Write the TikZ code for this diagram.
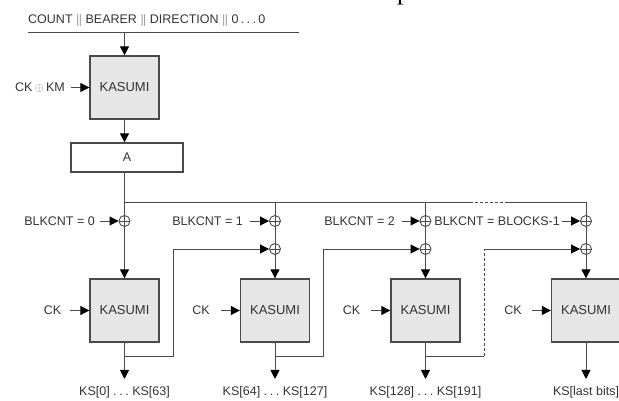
\documentclass[tikz,border=0pt]{standalone}
\usepackage{fontspec}
\setmainfont{Liberation Sans}
\newfontfamily\seriffont{Liberation Serif}
\usetikzlibrary{arrows.meta,calc}
\definecolor{ln}{HTML}{4A4A4A}
\definecolor{tx}{HTML}{333333}
\definecolor{boxfill}{HTML}{E6E6E6}
\newcommand{\sdots}{.\hspace{2.6pt}.\hspace{2.6pt}.}
\tikzset{
  kbox/.style={draw=ln, line width=1.3pt, fill=boxfill, minimum width=69pt, minimum height=63pt, inner sep=0pt, text=tx, font=\fontsize{13}{15}\selectfont},
  lbl/.style={text=tx, font=\fontsize{12.5}{15}\selectfont, inner sep=0pt},
  wire/.style={draw=ln, line width=0.9pt},
  arr/.style={wire, -{Triangle[length=9pt,width=9pt,color=black]}},
  dwire/.style={wire, dash pattern=on 3pt off 2pt},
  xorn/.style={circle, draw=ln, line width=0.9pt, minimum size=11pt, inner sep=0pt,
    path picture={\draw[ln,line width=0.9pt] (path picture bounding box.north) -- (path picture bounding box.south) (path picture bounding box.west) -- (path picture bounding box.east);}},
}
\begin{document}
\begin{tikzpicture}[x=1pt,y=-1pt]
\useasboundingbox (0,0) rectangle (619,401);
\clip (0,0) rectangle (619,401);

% cropped fragment of surrounding text
\node[font=\seriffont\fontsize{26}{26}\selectfont, inner sep=0pt, anchor=base west, text=black] (pfrag) at (397,0) {p};

% header
\node[lbl, anchor=west] (title) at (28,21) {COUNT $\|$ BEARER $\|$ DIRECTION $\|$ 0\,\sdots\,0};
\coordinate (tl) at (28,32);
\coordinate (tr) at (299,32);
\draw[wire] (tl) -- (tr);
\coordinate (tin) at (124.5,32);

% first KASUMI and A
\node[kbox] (k0) at (124.5,87.5) {KASUMI};
\draw[arr] (tin) -- (k0.north);
\node[lbl, anchor=east] (ckkm) at (65,87.5) {CK\,{\color{gray}$\oplus$}\,KM};
\draw[arr] ($(ckkm.east)+(6,0)$) -- (k0.west);
\node[draw=ln, line width=1.3pt, minimum width=112pt, minimum height=29pt, lbl] (A) at (127,157.5) {A};
\draw[arr] (k0.south) -- (k0.south |- A.north);

% xor nodes
\node[xorn] (x1a) at (124.5,221) {};
\node[xorn] (x2a) at (275,221) {};
\node[xorn] (x2b) at (275,249) {};
\node[xorn] (x3a) at (425.5,221) {};
\node[xorn] (x3b) at (425.5,249) {};
\node[xorn] (x4a) at (586,221) {};
\node[xorn] (x4b) at (586,249) {};

% KASUMI boxes
\node[kbox] (k1) at (124.5,310.5) {KASUMI};
\node[kbox] (k2) at (275,310.5) {KASUMI};
\node[kbox] (k3) at (425.5,310.5) {KASUMI};
\node[kbox] (k4) at (586,310.5) {KASUMI};

% bus
\coordinate (hb) at (124.5,202);
\coordinate (hd1) at (470,202);
\coordinate (hd2) at (507,202);
\draw[wire] (k0.south |- A.south) -- (x1a.north);
\draw[wire] (hb) -- (hd1);
\draw[dwire] (hd1) -- (hd2);
\draw[wire] (hd2) -- (x4a |- hb);

% verticals
\draw[arr] (x1a.south) -- (k1.north);
\draw[wire] (x2a |- hb) -- (x2a.north);
\draw[wire] (x2a.south) -- (x2b.north);
\draw[arr] (x2b.south) -- (k2.north);
\draw[wire] (x3a |- hb) -- (x3a.north);
\draw[wire] (x3a.south) -- (x3b.north);
\draw[arr] (x3b.south) -- (k3.north);
\draw[wire] (x4a |- hb) -- (x4a.north);
\draw[wire] (x4a.south) -- (x4b.north);
\draw[arr] (x4b.south) -- (k4.north);

% BLKCNT inputs
\node[lbl, anchor=east] (b1) at (95,221) {BLKCNT = 0};
\draw[arr] ($(b1.east)+(5,0)$) -- (x1a.west);
\node[lbl, anchor=east] (b2) at (243,221) {BLKCNT = 1};
\draw[arr] ($(b2.east)+(7,0)$) -- (x2a.west);
\node[lbl, anchor=east] (b3) at (395,221) {BLKCNT = 2};
\draw[arr] ($(b3.east)+(7,0)$) -- (x3a.west);
\node[lbl, anchor=east] (b4) at (560,221) {BLKCNT = BLOCKS-1};
\draw[arr] ($(b4.east)+(2,0)$) -- (x4a.west);

% CK inputs
\node[lbl, anchor=east] (ck1) at ($(k1.west)+(-28,0)$) {CK};
\draw[arr] ($(k1.west)+(-19,0)$) -- (k1.west);
\node[lbl, anchor=east] (ck2) at ($(k2.west)+(-30,0)$) {CK};
\draw[arr] ($(k2.west)+(-19,0)$) -- (k2.west);
\node[lbl, anchor=east] (ck3) at ($(k3.west)+(-30,0)$) {CK};
\draw[arr] ($(k3.west)+(-19,0)$) -- (k3.west);
\node[lbl, anchor=east] (ck4) at ($(k4.west)+(-29,0)$) {CK};
\draw[arr] ($(k4.west)+(-19,0)$) -- (k4.west);

% feedback
\coordinate (f1) at (124.5,356);
\coordinate (g1) at (173,249);
\draw[arr] (f1) -| (g1) -- (x2b.west);
\coordinate (f2) at (275,356);
\coordinate (g2) at (323,249);
\draw[arr] (f2) -| (g2) -- (x3b.west);
\coordinate (f3) at (425.5,356);
\coordinate (e3) at (484,356);
\coordinate (g3) at (484,249);
\draw[wire] (f3) -- (e3);
\draw[dwire] (e3) -- (g3);
\draw[arr] (g3) -- (x4b.west);

% outputs
\node[lbl] (ks1) at (124.5,392) {KS[0] \sdots\ KS[63]};
\node[lbl] (ks2) at (275,392) {KS[64] \sdots\ KS[127]};
\node[lbl] (ks3) at (425.5,392) {KS[128] \sdots\ KS[191]};
\node[lbl] (ks4) at (586,392) {KS[last bits]};
\draw[arr] (k1.south) -- ($(ks1.north)+(0,-7)$);
\draw[arr] (k2.south) -- ($(ks2.north)+(0,-7)$);
\draw[arr] (k3.south) -- ($(ks3.north)+(0,-7)$);
\draw[arr] (k4.south) -- ($(ks4.north)+(0,-7)$);
\end{tikzpicture}
\end{document}
